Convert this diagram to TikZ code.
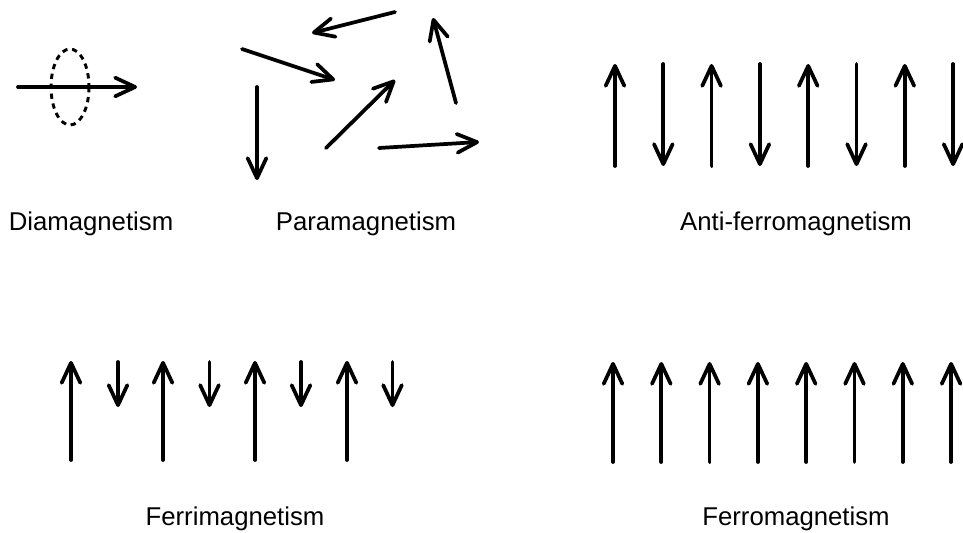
\documentclass[tikz,border=0pt]{standalone}
\usepackage{fontspec}
\setmainfont{Liberation Sans}
\usetikzlibrary{arrows.meta}

\begin{document}
\begin{tikzpicture}[x=0.75pt, y=-0.75pt,
  >={Straight Barb[length=15pt, width=14pt, round]},
  spin/.style={->, line width=2.8pt, line cap=round},
  lbl/.style={anchor=base, inner sep=0pt, font=\fontsize{19.3}{22}\selectfont}]
\useasboundingbox (0,0) rectangle (963,532);
% diamagnetism
\draw[line width=2.2pt, dash pattern=on 4pt off 3.5pt] (70,87) ellipse [x radius=19, y radius=38];
\draw[spin] (18,87) -- (137,87);
\node[lbl] (dia) at (91,230) {Diamagnetism};
% paramagnetism: random spins
\draw[spin] (395,12) -- (312,33);
\draw[spin] (242,49) -- (335,80);
\draw[spin] (257,87) -- (257,180);
\draw[spin] (326,148) -- (395,80);
\draw[spin] (456,103) -- (433,18);
\draw[spin] (379,148) -- (479,142);
\node[lbl] (para) at (366,230) {Paramagnetism};
% anti-ferromagnetism
\foreach \i in {0,2,4,6}{
  \draw[spin] ({615+48.3*\i},166) -- ++(0,-102);
  \draw[spin] ({615+48.3*(\i+1)},64) -- ++(0,102);
}
\node[lbl] (afm) at (796,230) {Anti-ferromagnetism};
% ferrimagnetism
\foreach \k in {0,...,3}{
  \draw[spin] ({71+92*\k},460) -- ++(0,-99);
  \draw[spin] ({118+91.5*\k},362) -- ++(0,45);
}
\node[lbl] (ferri) at (235,525) {Ferrimagnetism};
% ferromagnetism
\foreach \i in {0,...,7}
  \draw[spin] ({613+48.3*\i},462) -- ++(0,-100);
\node[lbl] (fm) at (796,525) {Ferromagnetism};
\end{tikzpicture}
\end{document}
